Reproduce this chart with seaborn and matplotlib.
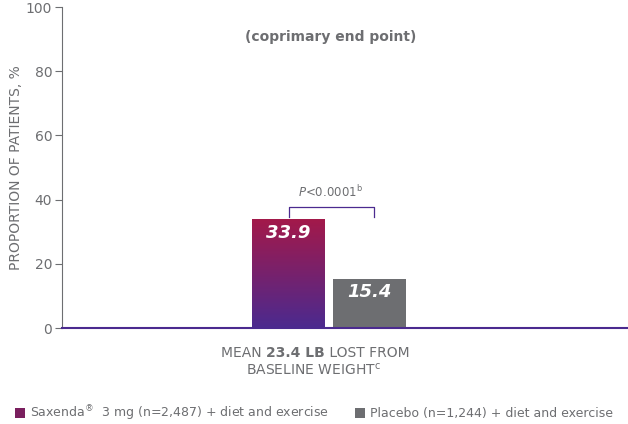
import matplotlib
matplotlib.use("Agg")
import matplotlib.pyplot as plt
import numpy as np
import pandas as pd
import seaborn as sns
from matplotlib.colors import LinearSegmentedColormap
from matplotlib.patches import Patch

groups = ["Saxenda", "Placebo"]
values = [33.9, 15.4]
yticks = [0, 20, 40, 60, 80, 100]

gray = "#6d6e71"
purple = "#4b2a8f"
crimson = "#a3194a"

df = pd.DataFrame({"group": groups, "value": values})
fig = plt.figure(figsize=(6.28, 4.24), dpi=100)
ax = fig.add_axes([62 / 628, 96 / 424, 566 / 628, 321 / 424])
sns.barplot(data=df, x="group", y="value", ax=ax, width=0.9,
            palette=[crimson, gray], hue="group", legend=False, saturation=1)

# gradient fill for first bar
bar = ax.patches[0]
x0, y0 = bar.get_x(), bar.get_y()
w, h = bar.get_width(), bar.get_height()
cmap = LinearSegmentedColormap.from_list("sx", [purple, crimson])
grad = np.linspace(0, 1, 256).reshape(-1, 1)
im = ax.imshow(grad, extent=[x0, x0 + w, y0, y0 + h], origin="lower",
               cmap=cmap, aspect="auto", zorder=3)
im.set_clip_path(bar)

for i, v in enumerate(values):
    ax.text(i, v - 1.5, f"{v}", color="white", fontsize=13, fontweight="bold",
            fontstyle="italic", ha="center", va="top", zorder=5)

ax.set_xlim(-2.796, 4.19)
ax.set_ylim(0, 100)
ax.set_yticks(yticks)
ax.tick_params(axis="y", colors=gray, labelsize=10, length=5, width=0.8, pad=2)
ax.tick_params(axis="x", bottom=False, labelbottom=False)
for s in ["top", "right"]:
    ax.spines[s].set_visible(False)
ax.spines["left"].set_color(gray)
ax.spines["bottom"].set_color(purple)
ax.spines["bottom"].set_linewidth(1.5)
ax.set_xlabel("")
ax.set_ylabel("PROPORTION OF PATIENTS, %", color=gray, fontsize=10, labelpad=2)

# significance bracket
ax.plot([0, 0, 1.05, 1.05], [34.5, 37.7, 37.7, 34.5], color=purple, lw=0.9)
ax.text(0.52, 40, "$P$<0.0001$^{\\mathrm{b}}$", color=gray, fontsize=8.5, ha="center", va="bottom")
ax.text(0.52, 90.6, "(coprimary end point)", color=gray, fontsize=10,
        fontweight="bold", ha="center", va="center")

# x label with mixed weight
mid = fig.text(0.47, 0.168, "23.4 LB", color=gray, fontsize=10, fontweight="bold",
               ha="center", va="center")
fig.text(0, 0, "MEAN ", color=gray, fontsize=10, ha="right", va="center",
         transform=None).remove()
ax.annotate("MEAN ", xy=(0, 0.5), xycoords=mid, ha="right", va="center", color=gray, fontsize=10)
ax.annotate(" LOST FROM", xy=(1, 0.5), xycoords=mid, ha="left", va="center", color=gray, fontsize=10)
fig.text(0.5, 0.128, "BASELINE WEIGHT$^{\\mathrm{c}}$", color=gray, fontsize=10, ha="center", va="center")

handles = [Patch(facecolor="#7a1f5e"), Patch(facecolor=gray)]
labels = ["Saxenda$^{\\circledR}$  3 mg (n=2,487) + diet and exercise",
          "Placebo (n=1,244) + diet and exercise"]
leg = fig.legend(handles, labels, loc="center", bbox_to_anchor=(0.5, 0.026), ncol=2,
                 frameon=False, fontsize=9, handlelength=0.8, handleheight=0.8,
                 handletextpad=0.4, columnspacing=2.0)
for t in leg.get_texts():
    t.set_color(gray)

fig.savefig("out.png", dpi=100)
